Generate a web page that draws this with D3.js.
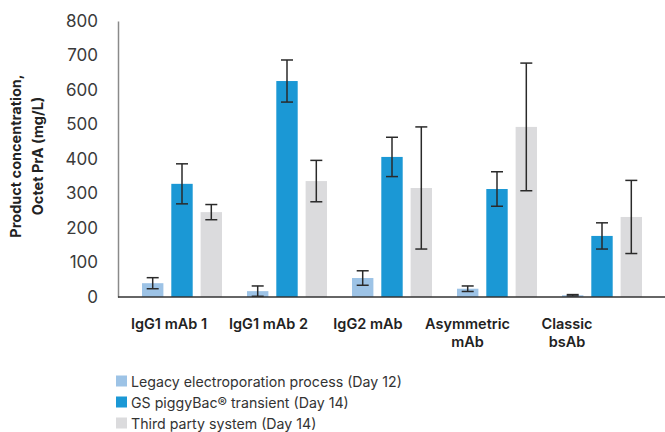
<!DOCTYPE html>
<html><head><meta charset="utf-8">
<script src="https://cdn.jsdelivr.net/npm/d3@7"></script>
<style>body{margin:0;background:#fff;} text{font-family:Inter, "Noto Sans", sans-serif;}</style>
</head><body>
<svg id="c" width="665" height="432"></svg>
<script>
const categories = ["IgG1 mAb 1","IgG1 mAb 2","IgG2 mAb","Asymmetric\nmAb","Classic\nbsAb"];
const seriesNames = ["Legacy electroporation process (Day 12)","GS piggyBac\u00AE transient (Day 14)","Third party system (Day 14)"];
const legacy = [40, 17, 55, 24, 5];
const legacyErr = [16, 15, 21, 8, 2];
const gsPiggyBac = [328, 626, 406, 313, 177];
const gsPiggyBacErr = [58, 61, 57, 50, 38];
const thirdParty = [246, 336, 316, 493, 232];
const thirdPartyErr = [22, 60, 177, 185, 106];
const yTicks = [0,100,200,300,400,500,600,700,800];
const colors = ["#9DC3E6","#1B98D5","#DBDBDD"];

const svg = d3.select("#c");
const y = d3.scaleLinear().domain([0,800]).range([297,21]);
const x = d3.scaleBand().domain(categories).range([129.5,654.5]);
const xs = d3.scaleBand().domain([0,1,2]).range([-40,40]).paddingInner(0.27);
const xl = d3.scalePoint().domain(categories).range([169,567]);

const series = [
  {vals: legacy, err: legacyErr},
  {vals: gsPiggyBac, err: gsPiggyBacErr},
  {vals: thirdParty, err: thirdPartyErr}
];

// y axis
const yAxis = d3.axisLeft(y).tickValues(yTicks).tickSize(0).tickPadding(20);
const ga = svg.append("g").attr("transform","translate(118,0)").call(yAxis);
ga.select(".domain").attr("stroke","#8a8a8a").attr("stroke-width",1.5);
ga.selectAll("text").attr("font-size",17).attr("fill","#3a3a3a").style("font-family","Inter, sans-serif");

// bars
series.forEach((s,si)=>{
  const g = svg.append("g");
  g.selectAll("rect").data(categories).join("rect")
    .attr("x", c=>x(c)+x.bandwidth()/2+xs(si))
    .attr("width", xs.bandwidth())
    .attr("y", (c,i)=>y(s.vals[i]))
    .attr("height", (c,i)=>y(0)-y(s.vals[i]))
    .attr("fill", colors[si]);
});
// error bars
series.forEach((s,si)=>{
  const g = svg.append("g").attr("stroke","#2a2a2a").attr("stroke-width",1.5);
  categories.forEach((c,i)=>{
    const cx = x(c)+x.bandwidth()/2+xs(si)+xs.bandwidth()/2;
    const hi = y(s.vals[i]+s.err[i]), lo = y(Math.max(0,s.vals[i]-s.err[i]));
    g.append("line").attr("x1",cx).attr("x2",cx).attr("y1",hi).attr("y2",lo);
    g.append("line").attr("x1",cx-6).attr("x2",cx+6).attr("y1",hi).attr("y2",hi);
    g.append("line").attr("x1",cx-6).attr("x2",cx+6).attr("y1",lo).attr("y2",lo);
  });
});

// x axis line
svg.append("line").attr("x1",118).attr("x2",665).attr("y1",y(0)).attr("y2",y(0))
  .attr("stroke","#333").attr("stroke-width",1.5);

// x labels
categories.forEach(c=>{
  const lines = c.split("\n");
  const t = svg.append("text").attr("text-anchor","middle").attr("font-size",14.5)
    .attr("font-weight",600).attr("fill","#222");
  lines.forEach((l,j)=>t.append("tspan").attr("x",xl(c)).attr("y",329+j*18).text(l));
});

// y title
const yt = svg.append("text").attr("transform","translate(0,156) rotate(-90)")
  .attr("text-anchor","middle").attr("font-size",14.5).attr("font-weight",700).attr("fill","#222");
yt.append("tspan").attr("x",0).attr("y",21).text("Product concentration,");
yt.append("tspan").attr("x",0).attr("y",43).text("Octet PrA (mg/L)");

// legend
seriesNames.forEach((n,i)=>{
  const yy = 381 + i*21;
  svg.append("rect").attr("x",116).attr("y",yy-5.5).attr("width",11).attr("height",11).attr("fill",colors[i]);
  svg.append("text").attr("x",131).attr("y",yy+5.5).attr("font-size",14.2).attr("fill","#333").text(n);
});
</script>
</body></html>
